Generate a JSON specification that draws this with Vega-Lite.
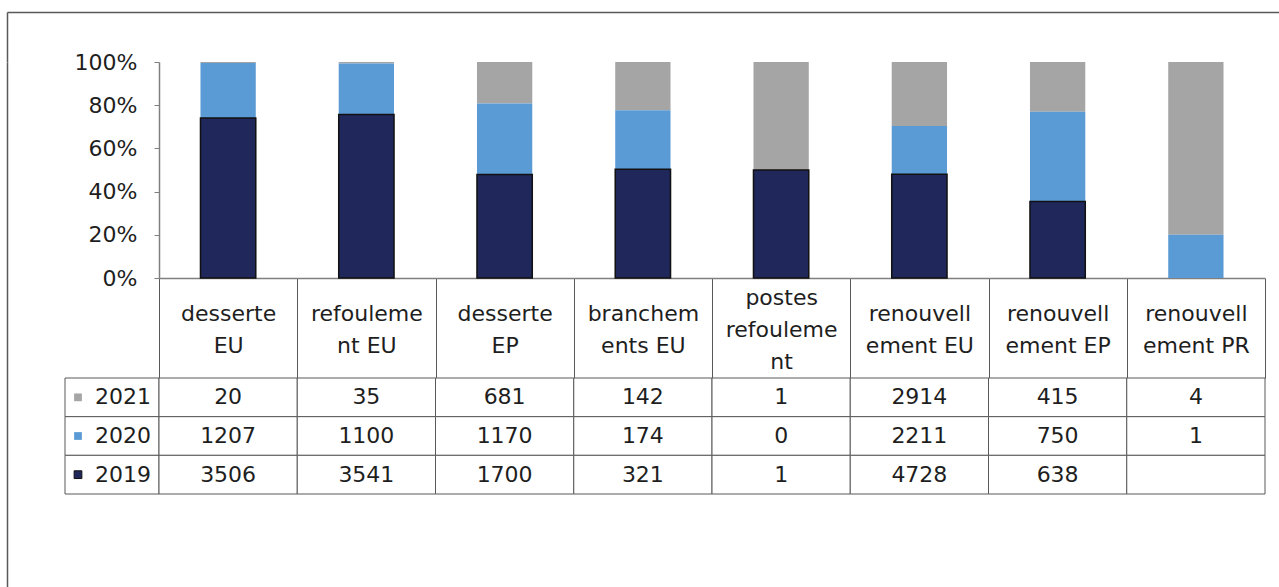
{
  "$schema": "https://vega.github.io/schema/vega-lite/v6.json",
  "padding": {"left": 7, "top": 12, "right": 0, "bottom": 0},
  "background": "white",
  "config": {
    "view": {"stroke": null},
    "font": "DejaVu Sans",
    "axis": {"labelFont": "DejaVu Sans", "labelFontSize": 22, "labelColor": "#1e1e1e", "grid": false, "title": null},
    "text": {"font": "DejaVu Sans", "fontSize": 22, "color": "#1e1e1e"}
  },
  "data": {
    "values": [
      {"cat": "desserte EU", "year": "2021", "n": 20},
      {"cat": "refoulement EU", "year": "2021", "n": 35},
      {"cat": "desserte EP", "year": "2021", "n": 681},
      {"cat": "branchements EU", "year": "2021", "n": 142},
      {"cat": "postes refoulement", "year": "2021", "n": 1},
      {"cat": "renouvellement EU", "year": "2021", "n": 2914},
      {"cat": "renouvellement EP", "year": "2021", "n": 415},
      {"cat": "renouvellement PR", "year": "2021", "n": 4},
      {"cat": "desserte EU", "year": "2020", "n": 1207},
      {"cat": "refoulement EU", "year": "2020", "n": 1100},
      {"cat": "desserte EP", "year": "2020", "n": 1170},
      {"cat": "branchements EU", "year": "2020", "n": 174},
      {"cat": "postes refoulement", "year": "2020", "n": 0},
      {"cat": "renouvellement EU", "year": "2020", "n": 2211},
      {"cat": "renouvellement EP", "year": "2020", "n": 750},
      {"cat": "renouvellement PR", "year": "2020", "n": 1},
      {"cat": "desserte EU", "year": "2019", "n": 3506},
      {"cat": "refoulement EU", "year": "2019", "n": 3541},
      {"cat": "desserte EP", "year": "2019", "n": 1700},
      {"cat": "branchements EU", "year": "2019", "n": 321},
      {"cat": "postes refoulement", "year": "2019", "n": 1},
      {"cat": "renouvellement EU", "year": "2019", "n": 4728},
      {"cat": "renouvellement EP", "year": "2019", "n": 638},
      {"cat": "renouvellement PR", "year": "2019", "n": null}
    ]
  },
  "spacing": 0,
  "bounds": "flush",
  "vconcat": [
    {
      "width": 1272,
      "height": 50,
      "mark": {"type": "point", "opacity": 0, "size": 0},
      "encoding": {
        "x": {"datum": 0.5, "type": "quantitative", "scale": {"domain": [0, 1]}, "axis": {"orient": "top", "labels": false, "ticks": false, "domainColor": "#595959", "domainWidth": 1.5}},
        "y": {"datum": 0.5, "type": "quantitative", "scale": {"domain": [0, 1]}, "axis": {"orient": "left", "labels": false, "ticks": false, "domainColor": "#595959", "domainWidth": 1.5}}
      }
    },
    {
      "spacing": 0,
      "bounds": "flush",
      "hconcat": [
        {
          "width": 58,
          "height": 525,
          "mark": {"type": "point", "opacity": 0, "size": 0},
          "encoding": {
            "y": {"datum": 0.5, "type": "quantitative", "scale": {"domain": [0, 1]}, "axis": {"orient": "left", "labels": false, "ticks": false, "domainColor": "#595959", "domainWidth": 1.5}}
          }
        },
        {
          "columns": 2,
          "align": "each",
          "bounds": "flush",
          "spacing": {"row": 100, "column": 0},
          "concat": [
            {
              "width": 94,
              "height": 216,
              "mark": {"type": "point", "opacity": 0, "size": 0}
            },
            {
              "width": 1106,
              "height": 216,
              "transform": [{"filter": "datum.n != null"}],
              "mark": {"type": "bar", "width": {"band": 0.4}, "strokeWidth": 1.5},
              "encoding": {
                "x": {
                  "field": "cat",
                  "type": "nominal",
                  "sort": ["desserte EU", "refoulement EU", "desserte EP", "branchements EU", "postes refoulement", "renouvellement EU", "renouvellement EP", "renouvellement PR"],
                  "scale": {"paddingInner": 0, "paddingOuter": 0},
                  "axis": {
                    "orient": "bottom",
                    "domainColor": "#7f7f7f",
                    "domainWidth": 1.5,
                    "tickBand": "extent",
                    "tickSize": 100,
                    "tickColor": "#595959",
                    "tickWidth": 1,
                    "labelAngle": 0,
                    "labelAlign": "center",
                    "labelBaseline": "middle",
                    "labelPadding": {"condition": {"test": "datum.value == 'postes refoulement'", "value": -81}, "value": -65},
                    "labelLineHeight": 32,
                    "labelOverlap": false,
                    "labelLimit": 0,
                    "labelExpr": "datum.value == 'desserte EU' ? ['desserte', 'EU'] : datum.value == 'refoulement EU' ? ['refouleme', 'nt EU'] : datum.value == 'desserte EP' ? ['desserte', 'EP'] : datum.value == 'branchements EU' ? ['branchem', 'ents EU'] : datum.value == 'postes refoulement' ? ['postes', 'refouleme', 'nt'] : datum.value == 'renouvellement EU' ? ['renouvell', 'ement EU'] : datum.value == 'renouvellement EP' ? ['renouvell', 'ement EP'] : datum.value == 'renouvellement PR' ? ['renouvell', 'ement PR'] : ''"
                  }
                },
                "y": {
                  "field": "n",
                  "type": "quantitative",
                  "stack": "normalize",
                  "axis": {
                    "values": [0, 0.2, 0.4, 0.6, 0.8, 1],
                    "format": ".0%",
                    "domainColor": "#7f7f7f",
                    "domainWidth": 1.5,
                    "tickColor": "#7f7f7f",
                    "tickSize": 5,
                    "labelPadding": 17
                  }
                },
                "color": {"field": "year", "type": "nominal", "scale": {"domain": ["2019", "2020", "2021"], "range": ["#1f275b", "#5b9bd5", "#a5a5a5"]}, "legend": null},
                "stroke": {"field": "year", "type": "nominal", "scale": {"domain": ["2019", "2020", "2021"], "range": ["#111111", "transparent", "transparent"]}, "legend": null},
                "order": {"field": "year", "type": "nominal", "sort": "ascending"}
              }
            },
            {
              "width": 94,
              "height": 116,
              "transform": [{"aggregate": [{"op": "count", "as": "k"}], "groupby": ["year"]}],
              "encoding": {
                "y": {"field": "year", "type": "nominal", "sort": ["2021", "2020", "2019"], "scale": {"paddingInner": 0, "paddingOuter": 0}, "axis": null}
              },
              "layer": [
                {"mark": {"type": "rect", "fill": "white", "stroke": "#595959", "strokeWidth": 1}},
                {
                  "mark": {"type": "point", "shape": "square", "filled": true, "size": 60, "xOffset": -34, "opacity": 1, "strokeWidth": 1},
                  "encoding": {
                    "color": {"field": "year", "type": "nominal", "scale": {"domain": ["2019", "2020", "2021"], "range": ["#1f275b", "#5b9bd5", "#a5a5a5"]}, "legend": null},
                    "stroke": {"field": "year", "type": "nominal", "scale": {"domain": ["2019", "2020", "2021"], "range": ["#111111", "transparent", "transparent"]}, "legend": null}
                  }
                },
                {"mark": {"type": "text", "dx": 11}, "encoding": {"text": {"field": "year", "type": "nominal"}}}
              ]
            },
            {
              "width": 1106,
              "height": 116,
              "encoding": {
                "x": {"field": "cat", "type": "nominal", "sort": ["desserte EU", "refoulement EU", "desserte EP", "branchements EU", "postes refoulement", "renouvellement EU", "renouvellement EP", "renouvellement PR"], "scale": {"paddingInner": 0, "paddingOuter": 0}, "axis": null},
                "y": {"field": "year", "type": "nominal", "sort": ["2021", "2020", "2019"], "scale": {"paddingInner": 0, "paddingOuter": 0}, "axis": null}
              },
              "layer": [
                {"mark": {"type": "rect", "fill": "white", "stroke": "#595959", "strokeWidth": 1}},
                {
                  "transform": [{"filter": "datum.n != null"}],
                  "mark": {"type": "text"},
                  "encoding": {"text": {"field": "n", "type": "quantitative", "format": "d"}}
                }
              ]
            }
          ]
        }
      ]
    }
  ]
}
